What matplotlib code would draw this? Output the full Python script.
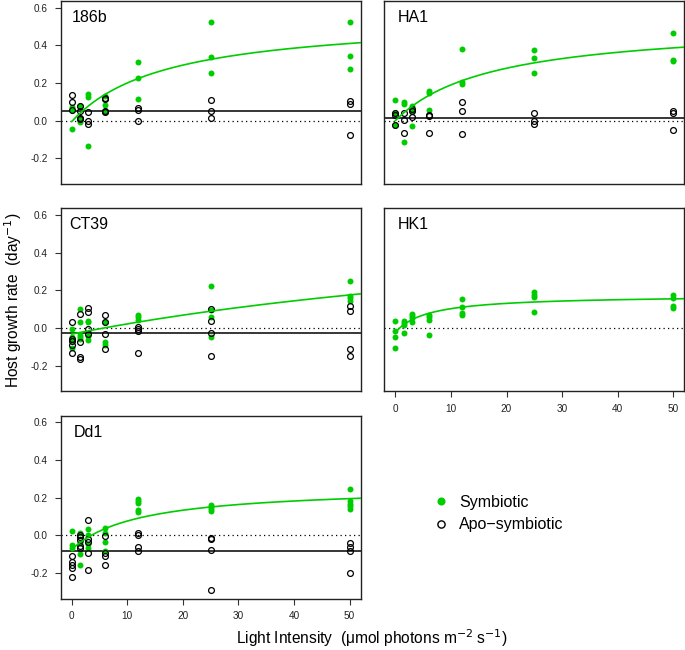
import numpy as np
import matplotlib
matplotlib.use("Agg")
import matplotlib.pyplot as plt
from matplotlib.lines import Line2D

plt.rcParams['font.family'] = ['Liberation Sans', 'DejaVu Sans']
plt.rcParams['axes.unicode_minus'] = False

# ---------------- data ----------------
light = [0, 1.5, 3, 6, 12, 25, 50]
x_ticks = [0, 10, 20, 30, 40, 50]
y_ticks = [-0.2, 0.0, 0.2, 0.4, 0.6]
y_tick_labels = ["-0.2", "0.0", "0.2", "0.4", "0.6"]

strains = ["186b", "HA1", "CT39", "HK1", "Dd1"]

sym_186b = [[0.071, 0.057, -0.043], [0.076, 0.009, -0.009], [0.14, 0.124, -0.134],
            [0.133, 0.083, 0.053], [0.31, 0.226, 0.115], [0.524, 0.339, 0.252],
            [0.524, 0.341, 0.274]]
apo_186b = [[0.136, 0.10, 0.057], [0.076, 0.053, 0.014, 0.007], [0.044, -0.004, -0.018],
            [0.12, 0.116, 0.053, 0.044], [0.067, 0.058, 0.0], [0.108, 0.049, 0.012],
            [0.106, 0.088, -0.076]]

sym_HA1 = [[0.11, 0.04, -0.023], [0.097, 0.088, -0.113], [0.076, 0.053, -0.03],
           [0.157, 0.148, 0.057], [0.381, 0.206, 0.192], [0.376, 0.334, 0.254],
           [0.464, 0.321, 0.316]]
apo_HA1 = [[0.04, 0.03, -0.023], [0.042, 0.005, -0.067], [0.06, 0.053, 0.018],
           [0.03, 0.023, -0.065], [0.099, 0.053, -0.074], [0.042, 0.0, -0.018],
           [0.053, 0.039, -0.051]]

sym_CT39 = [[-0.004, -0.05, -0.065, -0.106], [0.102, 0.032, -0.036, -0.048, -0.06],
            [0.035, 0.03, -0.044, -0.066], [0.032, -0.076, -0.089], [0.067, 0.056, 0.044],
            [0.221, 0.097, 0.056, -0.048], [0.252, 0.171, 0.159, 0.146]]
apo_CT39 = [[0.033, -0.058, -0.071, -0.089, -0.135], [0.072, -0.073, -0.154, -0.165],
            [0.109, 0.083, -0.005, -0.032], [0.07, 0.032, -0.029, -0.111],
            [0.007, -0.005, -0.018, -0.131], [0.102, 0.035, -0.028, -0.146],
            [0.115, 0.088, -0.111, -0.15]]

sym_HK1 = [[0.037, -0.018, -0.048, -0.106], [0.035, 0.026, 0.018, -0.027],
           [0.076, 0.065, 0.053, 0.03], [0.07, 0.058, 0.044, -0.039],
           [0.154, 0.113, 0.08, 0.07], [0.189, 0.176, 0.164, 0.086],
           [0.173, 0.162, 0.118, 0.106]]
apo_HK1 = [[], [], [], [], [], [], []]

sym_Dd1 = [[0.025, -0.05, -0.068], [0.013, -0.042, -0.1, -0.155], [0.032, 0.0, -0.044, -0.069],
           [0.042, 0.014, -0.035, -0.083], [0.194, 0.182, 0.171, 0.134, 0.123],
           [0.162, 0.153, 0.143, 0.132], [0.247, 0.185, 0.169, 0.155, 0.143]]
apo_Dd1 = [[-0.109, -0.139, -0.157, -0.171, -0.22], [0.0, -0.007, -0.025, -0.056, -0.065],
           [0.081, -0.021, -0.034, -0.092, -0.182], [-0.002, -0.095, -0.109, -0.159],
           [0.011, 0.004, -0.063, -0.083], [-0.011, -0.021, -0.078, -0.288],
           [-0.042, -0.062, -0.085, -0.198]]

# mean apo-symbiotic growth (horizontal line); None = no line
apo_mean = [0.051, 0.014, -0.025, None, -0.081]

# saturating fit of symbiotic growth: Pmax * I / (K + I) + b
fit_pmax = [0.557, 0.521, 0.718, 0.1986, 0.336]
fit_k = [17.2, 17.5, 122.7, 5.78, 12.3]
fit_b = [-0.005, 0.0, -0.032, -0.023, -0.074]

sym_all = [sym_186b, sym_HA1, sym_CT39, sym_HK1, sym_Dd1]
apo_all = [apo_186b, apo_HA1, apo_CT39, apo_HK1, apo_Dd1]

# ---------------- layout ----------------
W, H = 685, 650
fig = plt.figure(figsize=(W / 100, H / 100), dpi=100)

GREEN = "#00CD00"
pw, ph = 300, 183
panel_px = [(60.7, 0.8), (384.3, 0.8), (60.7, 208.3), (384.3, 208.3), (60.7, 415.7)]
show_y = [True, False, True, False, True]
show_x = [False, False, False, True, True]
label_x = [0.036, 0.044, 0.03, 0.044, 0.044]

for i, name in enumerate(strains):
    lx, ty = panel_px[i]
    ax = fig.add_axes([lx / W, 1 - (ty + ph) / H, pw / W, ph / H])
    ax.set_xlim(-2, 52)
    ax.set_ylim(-0.336, 0.636)

    # points
    for xv, vals in zip(light, sym_all[i]):
        ax.plot([xv] * len(vals), vals, 'o', ms=4.3, mfc=GREEN, mec=GREEN, mew=0, zorder=3)
    for xv, vals in zip(light, apo_all[i]):
        if vals:
            ax.plot([xv] * len(vals), vals, 'o', ms=4.2, mfc='none', mec='black', mew=0.9, zorder=4)

    # zero reference & apo mean
    ax.axhline(0.0, color='black', lw=0.9, ls=(0, (1, 2.6)), zorder=2)
    if apo_mean[i] is not None:
        ax.axhline(apo_mean[i], color='black', lw=1.1, zorder=2)

    # fitted curve
    xi = np.linspace(0, 52, 300)
    ax.plot(xi, fit_pmax[i] * xi / (fit_k[i] + xi) + fit_b[i], color=GREEN, lw=1.2, zorder=5)

    ax.text(label_x[i], 0.91, name, transform=ax.transAxes, fontsize=11.5,
            ha='left', va='center', color='black')

    for s in ax.spines.values():
        s.set_linewidth(1.0)
        s.set_color('#222222')

    ax.tick_params(direction='out', length=4.6, width=0.8, color='#333333',
                   labelsize=7.2, labelcolor='#222222', pad=4.5)
    if show_y[i]:
        ax.set_yticks(y_ticks)
        ax.set_yticklabels(y_tick_labels)
    else:
        ax.set_yticks([])
    if show_x[i]:
        ax.set_xticks(x_ticks)
        ax.set_xticklabels([str(t) for t in x_ticks])
    else:
        ax.set_xticks([])

# axis labels
fig.text(372 / W, 1 - 638 / H, r"Light Intensity  ($\mathregular{\mu}$mol photons m$^{-2}$ s$^{-1}$)",
         ha='center', va='center', fontsize=11.2)
fig.text(13 / W, 1 - 300 / H, r"Host growth rate  (day$^{-1}$)", rotation=90,
         ha='center', va='center', fontsize=11.2)

# legend
handles = [Line2D([], [], ls='none', marker='o', ms=5.8, mfc=GREEN, mec=GREEN, mew=0),
           Line2D([], [], ls='none', marker='o', ms=5.2, mfc='none', mec='black', mew=1.0)]
fig.legend(handles, ["Symbiotic", "Apo\u2212symbiotic"], loc='upper left',
           bbox_to_anchor=(435 / W, 1 - 495 / H), frameon=False, fontsize=11.5,
           handlelength=0.8, handletextpad=0.7, labelspacing=0.45, borderpad=0,
           borderaxespad=0)

fig.savefig("out.png", dpi=100)
